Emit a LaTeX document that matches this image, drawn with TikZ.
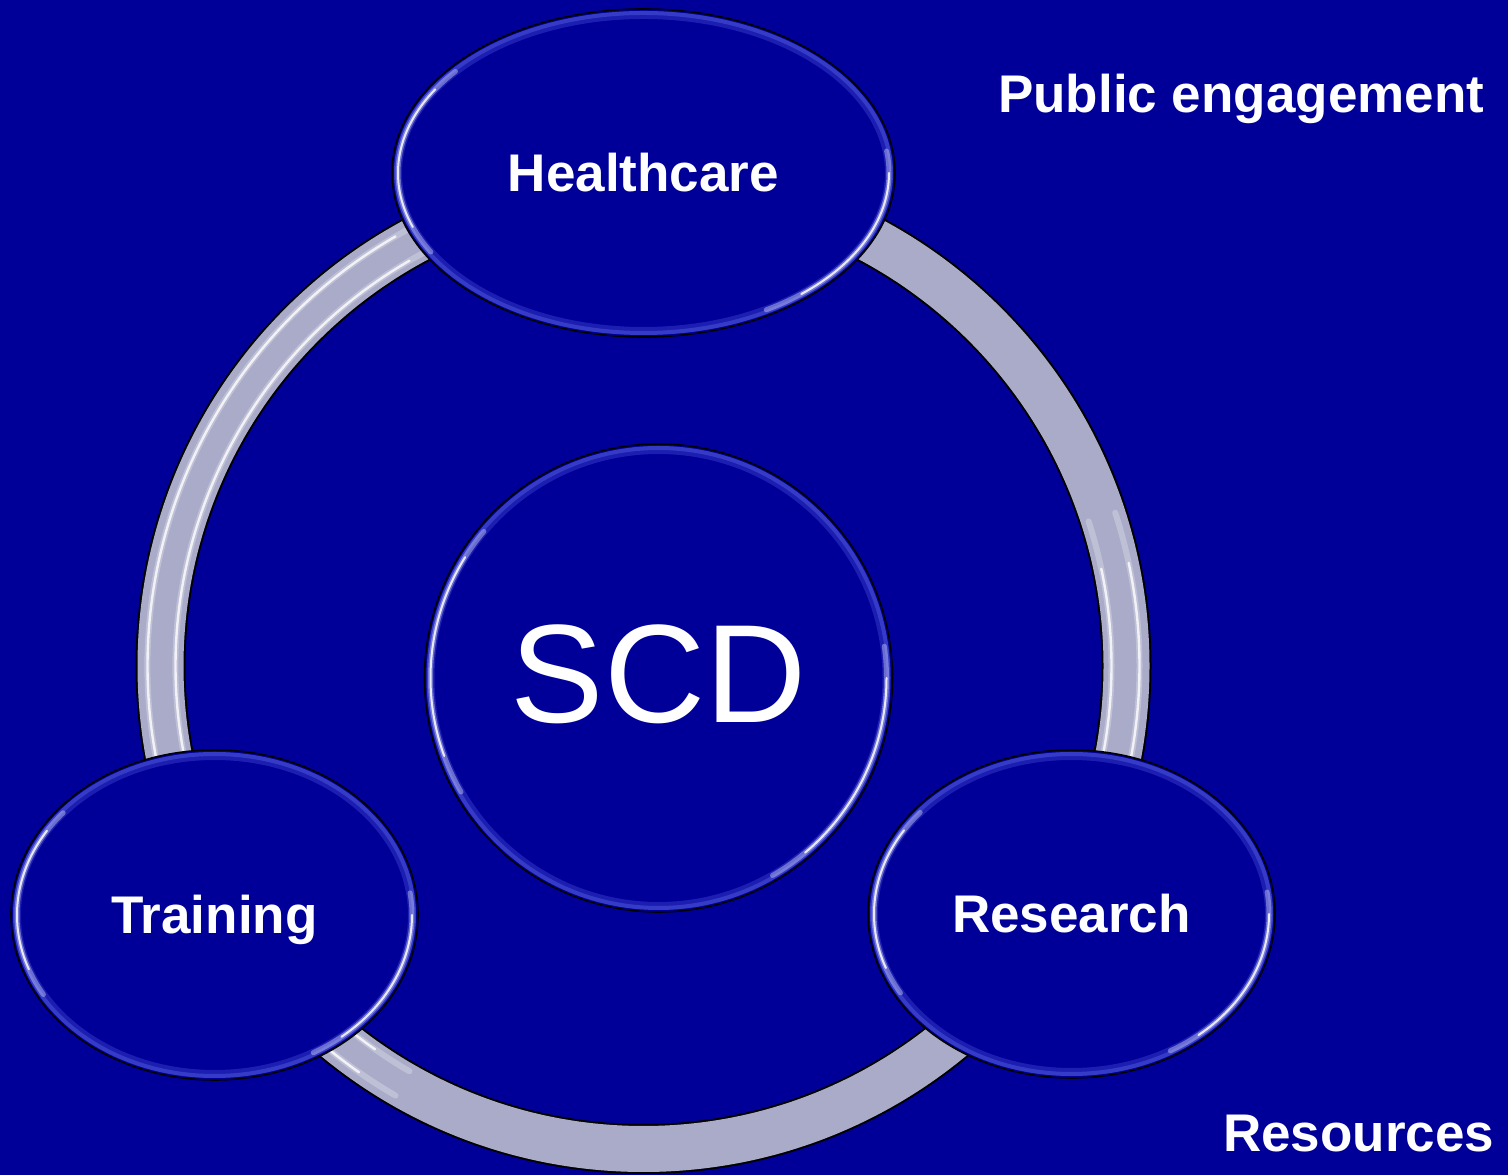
\documentclass[tikz,border=0pt]{standalone}
\usepackage{fontspec}
\setmainfont{Liberation Sans}
\usetikzlibrary{shapes.geometric}
\definecolor{bg}{RGB}{0,0,153}
\definecolor{ringfill}{RGB}{169,171,201}
\definecolor{rimblue}{RGB}{80,88,220}
\tikzset{
  bubble/.style={ellipse, draw=black, line width=1.6pt, fill=bg, inner sep=0pt,
    text=white, font=\fontsize{53}{60}\selectfont\bfseries, text height=37pt, text depth=0pt},
  corebubble/.style={circle, draw=black, line width=1.6pt, fill=bg, inner sep=0pt,
    text=white, font=\fontsize{140}{160}\selectfont, text height=90pt, text depth=0pt},
  sidelabel/.style={inner sep=0pt, text=white, font=\fontsize{53}{60}\selectfont\bfseries, anchor=base west},
  rimband/.style={draw=rimblue, line width=8pt, opacity=0.35},
  rimband2/.style={draw=rimblue, line width=4pt, opacity=0.5},
  rimglow/.style={draw=rimblue!40!white, line width=5pt, opacity=0.5, line cap=round},
  rimhl/.style={draw=white, line width=2pt, opacity=0.85, line cap=round},
  ringglow/.style={draw=white, line width=6pt, opacity=0.25, line cap=round},
  ringhl/.style={draw=white, line width=2.4pt, opacity=0.8, line cap=round},
}
\newcommand{\glassrim}[3]{%
  \draw[rimband] (#1.center) ellipse[x radius=#2-6, y radius=#3-6];
  \draw[rimband2] (#1.center) ellipse[x radius=#2-4, y radius=#3-4];
  \draw[rimglow] (#1.center) ++(140:#2-6 and #3-6) arc[start angle=140, end angle=210, x radius=#2-6, y radius=#3-6];
  \draw[rimglow] (#1.center) ++(-60:#2-6 and #3-6) arc[start angle=-60, end angle=8, x radius=#2-6, y radius=#3-6];
  \draw[rimhl] (#1.center) ++(148:#2-6 and #3-6) arc[start angle=148, end angle=200, x radius=#2-6, y radius=#3-6];
  \draw[rimhl] (#1.center) ++(-50:#2-6 and #3-6) arc[start angle=-50, end angle=0, x radius=#2-6, y radius=#3-6];
}
\begin{document}
\begin{tikzpicture}[x=1pt,y=1pt]
\useasboundingbox (0,0) rectangle (1508,1175);
\fill[bg] (0,0) rectangle (1508,1175);
% ring
\coordinate (rc) at (643.5,509);
\draw[black, line width=50pt] (rc) circle[radius=483];
\draw[ringfill, line width=46pt] (rc) circle[radius=483];
\draw[ringglow] (rc) ++(115:496) arc[start angle=115, end angle=240, radius=496];
\draw[ringglow] (rc) ++(115:468) arc[start angle=115, end angle=240, radius=468];
\draw[ringhl] (rc) ++(120:496) arc[start angle=120, end angle=235, radius=496];
\draw[ringhl] (rc) ++(120:468) arc[start angle=120, end angle=235, radius=468];
\draw[ringglow] (rc) ++(-30:496) arc[start angle=-30, end angle=18, radius=496];
\draw[ringglow] (rc) ++(-30:468) arc[start angle=-30, end angle=18, radius=468];
\draw[ringhl] (rc) ++(-22:496) arc[start angle=-22, end angle=12, radius=496];
\draw[ringhl] (rc) ++(-22:468) arc[start angle=-22, end angle=12, radius=468];
% nodes
\node[bubble, minimum width=503pt, minimum height=328pt] (hc) at (643.5,1002) {Healthcare};
\node[bubble, minimum width=407pt, minimum height=330pt] (tr) at (214.5,260) {Training};
\node[bubble, minimum width=407pt, minimum height=328pt] (rs) at (1071.5,261) {Research};
\node[corebubble, minimum size=468pt] (scd) at (658.5,497) {SCD};
\glassrim{hc}{251.5}{164}
\glassrim{tr}{203.5}{165}
\glassrim{rs}{203.5}{164}
\glassrim{scd}{234}{234}
% side labels
\node[sidelabel] (pe) at (998,1062) {Public engagement};
\node[sidelabel] (res) at (1223,23) {Resources};
\end{tikzpicture}
\end{document}
